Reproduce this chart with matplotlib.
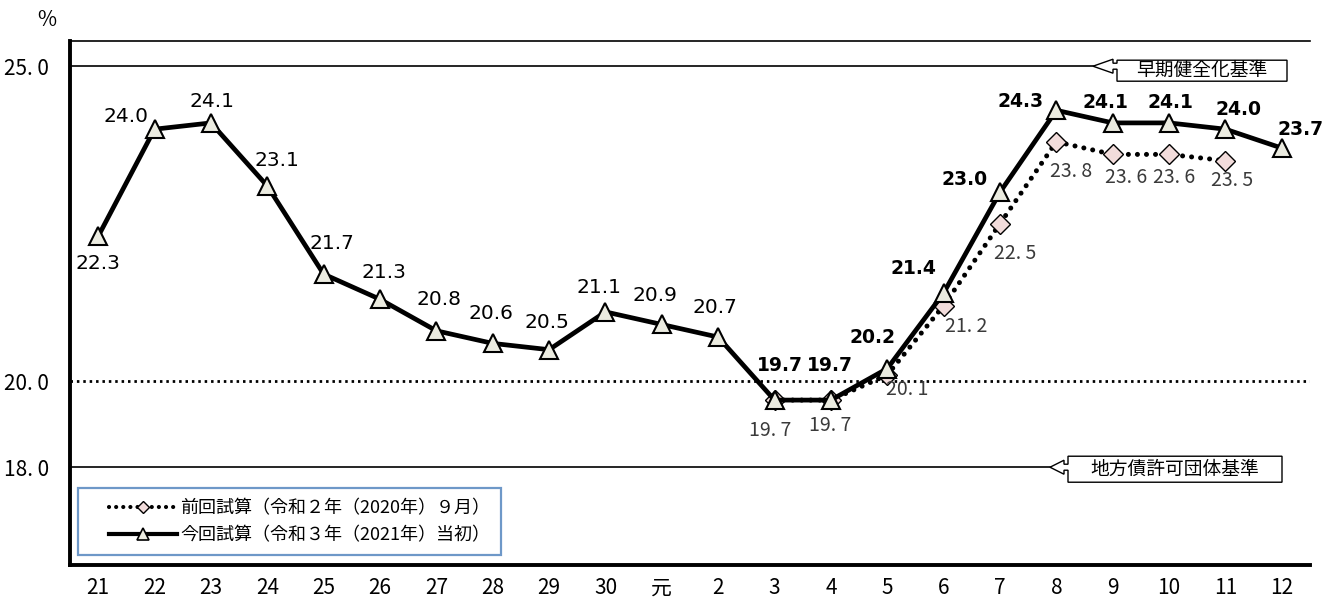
import numpy as np
import matplotlib
matplotlib.use("Agg")
import matplotlib.pyplot as plt
from matplotlib.lines import Line2D
from matplotlib.patches import Polygon
from matplotlib.transforms import IdentityTransform
from matplotlib.legend_handler import HandlerLine2D

plt.rcParams['font.family'] = ['DejaVu Sans', 'Noto Sans CJK JP']
JP = ['Noto Sans CJK JP', 'DejaVu Sans']

# ── Data ────────────────────────────────────────────────────────────────────
YEARS = ["21", "22", "23", "24", "25", "26", "27", "28", "29", "30", "元",
         "2", "3", "4", "5", "6", "7", "8", "9", "10", "11", "12"]
CURRENT = [22.3, 24.0, 24.1, 23.1, 21.7, 21.3, 20.8, 20.6, 20.5, 21.1, 20.9,
           20.7, 19.7, 19.7, 20.2, 21.4, 23.0, 24.3, 24.1, 24.1, 24.0, 23.7]
PREVIOUS = [np.nan] * 12 + [19.7, 19.7, 20.1, 21.2, 22.5, 23.8, 23.6, 23.6,
                            23.5, np.nan]
EARLY_LINE = 25.0      # 早期健全化基準
PERMIT_LINE = 18.0     # 地方債許可団体基準
MID_LINE = 20.0
YTICKS = [18.0, 20.0, 25.0]
YTICK_LABELS = ["18. 0", "20. 0", "25. 0"]
LABEL_CUR = "今回試算（令和３年（2021年）当初）"
LABEL_PREV = "前回試算（令和２年（2020年）９月）"

# label offsets in pixels (dx, dy)
OFF_CUR = [(0, -27), (-29, 13), (1, 21), (10, 25), (8, 31), (4, 27), (3, 31),
           (-2, 30), (-2, 27), (-6, 24), (-7, 29), (-3, 30), (5, 35), (-1, 35),
           (-15, 31), (-30, 24), (-35, 13), (-36, 9), (-7, 20), (1, 20),
           (13, 20), (19, 19)]
OFF_PREV = {12: (-4, -30), 13: (-1, -25), 14: (20, -15), 15: (23, -21),
            16: (15, -30), 17: (15, -30), 18: (13, -23), 19: (5, -23),
            20: (7, -20)}


# broken-ish y scale: compressed below 19.5
def fwd(y):
    y = np.asarray(y, float)
    return np.where(y >= 19.5, y - 20.0, -0.5 + (y - 19.5) * 0.577)


def inv(v):
    v = np.asarray(v, float)
    return np.where(v >= -0.5, v + 20.0, 19.5 + (v + 0.5) / 0.577)


W, H = 1335, 602
fig = plt.figure(figsize=(W / 100, H / 100), dpi=100)
ax = fig.add_axes([70 / W, 37 / H, 1240 / W, 524 / H])
ax.set_yscale('function', functions=(fwd, inv))
ax.set_ylim(15.31, 25.40)
ax.set_xlim(-0.5, len(YEARS) - 0.5)

x = np.arange(len(YEARS))

# reference lines
ax.axhline(EARLY_LINE, xmax=(1093 - 70) / 1240, color='black', lw=1.2, zorder=1)
ax.axhline(PERMIT_LINE, xmax=(1050 - 70) / 1240, color='black', lw=1.2, zorder=1)
ax.axhline(MID_LINE, color='black', lw=2.0, ls=(0, (0.9, 1.4)), zorder=1)

ax.plot(x, PREVIOUS, color='black', lw=3.6, ls=(0, (0.01, 1.8)),
        dash_capstyle='round', marker='D', ms=10, mfc='#f2dcdb', mec='black',
        mew=1.0, zorder=3)
ax.plot(x, CURRENT, color='black', lw=3.4, marker='^', ms=13, mfc='#ebebe0',
        mec='black', mew=1.5, zorder=4)

for i, v in enumerate(CURRENT):
    bold = i >= 12
    ax.annotate(f"{v:.1f}", (x[i], v), xytext=OFF_CUR[i],
                textcoords='offset pixels', ha='center', va='center',
                fontsize=13.5 if bold else 14.5,
                fontweight='bold' if bold else 'normal', color='black',
                zorder=6)
for i, (dx, dy) in OFF_PREV.items():
    v = PREVIOUS[i]
    s = f"{v:.1f}".replace(".", ". ")
    ax.annotate(s, (x[i], v), xytext=(dx, dy), textcoords='offset pixels',
                ha='center', va='center', fontsize=14, color='#3a3a3a',
                family=JP, zorder=6)

# axes styling
ax.spines['right'].set_visible(False)
ax.spines['top'].set_linewidth(1.2)
ax.spines['left'].set_linewidth(2.8)
ax.spines['bottom'].set_linewidth(2.8)
ax.set_xticks(x)
ax.set_xticklabels(YEARS, family=JP, fontsize=15)
ax.set_yticks(YTICKS)
ax.set_yticklabels(YTICK_LABELS, family=JP, fontsize=15)
ax.yaxis.set_minor_locator(matplotlib.ticker.NullLocator())
ax.tick_params(axis='both', length=0)
ax.tick_params(axis='y', pad=15)
ax.tick_params(axis='x', pad=9)

fig.text(47 / W, 1 - 20 / H, "%", ha='center', va='center', fontsize=15,
         family=JP)

# legend
handles = [
    Line2D([], [], color='black', lw=3.0, ls=(0, (0.01, 1.7)),
           dash_capstyle='round', marker='D', ms=6, mfc='#f2dcdb',
           mec='black', mew=1.0),
    Line2D([], [], color='black', lw=3.0, marker='^', ms=8, mfc='#ebebe0',
           mec='black', mew=1.2),
]
leg = ax.legend(handles, [LABEL_PREV, LABEL_CUR], loc='lower left',
                bbox_to_anchor=(8 / 1240, 10 / 524), borderaxespad=0,
                prop={'family': JP, 'size': 13}, handlelength=4.9,
                handletextpad=0.15, numpoints=1, fancybox=False,
                borderpad=0.6, labelspacing=0.5, frameon=True,
                handler_map={Line2D: HandlerLine2D(xpad=1.1)})
leg.get_frame().set_edgecolor('#4a7ebb')
leg.get_frame().set_linewidth(1.6)


# arrow callouts for the two criteria lines
def callout(y_val, x_tip_px, box_w, top_off, box_h, head_len, text):
    _, ty = ax.transData.transform((0, y_val))
    tx = x_tip_px
    ty = float(ty)
    top = ty + top_off
    bot = top - box_h
    bx = tx + head_len + 4
    pts = [(tx, ty), (tx + head_len, ty + 7), (tx + head_len, ty + 3),
           (bx, ty + 3), (bx, top), (bx + box_w, top), (bx + box_w, bot),
           (bx, bot), (bx, ty - 3), (tx + head_len, ty - 3),
           (tx + head_len, ty - 7)]
    fig.add_artist(Polygon(pts, closed=True, fc='white', ec='black', lw=1.0,
                           transform=IdentityTransform(), zorder=7))
    fig.text((bx + box_w / 2) / W, ((top + bot) / 2) / H, text, ha='center',
             va='center', fontsize=13.5, family=JP, zorder=8)


callout(EARLY_LINE, 1093, 170, 6, 21, 20, "早期健全化基準")
callout(PERMIT_LINE, 1050, 214, 11, 26, 14, "地方債許可団体基準")

fig.savefig("out.png", dpi=100)
